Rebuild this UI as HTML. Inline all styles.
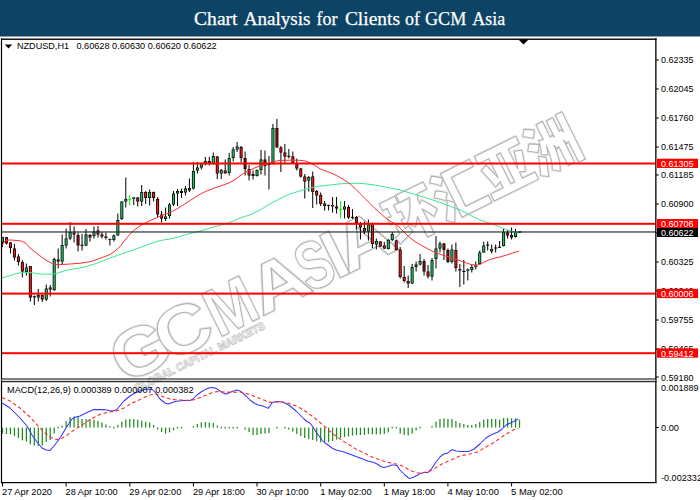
<!DOCTYPE html><html><head><meta charset="utf-8"><title>Chart Analysis for Clients of GCM Asia</title><style>html,body{margin:0;padding:0;background:#fff;overflow:hidden}</style></head><body><svg width="700" height="500" viewBox="0 0 700 500" style="display:block">
<rect x="0" y="0" width="700" height="500" fill="#fff"/>
<rect x="0" y="0" width="700" height="36.5" fill="#0d4466"/>
<g font-family="'Liberation Serif',serif" font-size="19.4" fill="#fff" stroke="#fff" stroke-width="0.25">
<text x="194.1" y="24.8" textLength="43.4" lengthAdjust="spacingAndGlyphs">Chart</text>
<text x="243.7" y="24.8" textLength="66.8" lengthAdjust="spacingAndGlyphs">Analysis</text>
<text x="316.4" y="24.8" textLength="21" lengthAdjust="spacingAndGlyphs">for</text>
<text x="344.9" y="24.8" textLength="55.1" lengthAdjust="spacingAndGlyphs">Clients</text>
<text x="405.1" y="24.8" textLength="15" lengthAdjust="spacingAndGlyphs">of</text>
<text x="425" y="24.8" textLength="41.3" lengthAdjust="spacingAndGlyphs">GCM</text>
<text x="472.3" y="24.8" textLength="32.8" lengthAdjust="spacingAndGlyphs">Asia</text>
</g>
<g transform="translate(122.5,385) rotate(-26.3)" font-weight="bold" fill="#fff" stroke="#ebebeb" stroke-width="3.0" stroke-linejoin="round">
<text x="2.0" y="0.5" font-family="'Liberation Sans',sans-serif" font-size="68" textLength="57.6" lengthAdjust="spacingAndGlyphs">G</text>
<text x="50.4" y="0.5" font-family="'Liberation Sans',sans-serif" font-size="68" textLength="55.7" lengthAdjust="spacingAndGlyphs">C</text>
<text x="107.0" y="0.5" font-family="'Liberation Sans',sans-serif" font-size="68" textLength="49.5" lengthAdjust="spacingAndGlyphs">M</text>
<text x="155.4" y="0.5" font-family="'Liberation Sans',sans-serif" font-size="68" textLength="59.2" lengthAdjust="spacingAndGlyphs">A</text>
<text x="208.5" y="0.5" font-family="'Liberation Sans',sans-serif" font-size="68" textLength="33.4" lengthAdjust="spacingAndGlyphs">S</text>
<text x="238.3" y="0.5" font-family="'Liberation Sans',sans-serif" font-size="68" textLength="19.3" lengthAdjust="spacingAndGlyphs">I</text>
<text x="250.5" y="0.5" font-family="'Liberation Sans',sans-serif" font-size="68" textLength="59.2" lengthAdjust="spacingAndGlyphs">A</text>
<text x="309" y="-3" font-family="'Noto Sans CJK SC','Liberation Sans',sans-serif" font-weight="900" font-size="57" textLength="209" lengthAdjust="spacingAndGlyphs">环汇亚洲</text>
<text x="9.5" y="12.8" font-family="'Liberation Sans',sans-serif" font-size="11" stroke-width="1.35" textLength="144" lengthAdjust="spacingAndGlyphs">GLOBAL CAPITAL MARKETS</text>
</g>
<g transform="translate(122.5,385) rotate(-26.3)" font-weight="bold" fill="#fff" stroke="#b2b2b2" stroke-width="1.1" stroke-linejoin="round">
<text x="2.0" y="0.5" font-family="'Liberation Sans',sans-serif" font-size="68" textLength="57.6" lengthAdjust="spacingAndGlyphs">G</text>
<text x="50.4" y="0.5" font-family="'Liberation Sans',sans-serif" font-size="68" textLength="55.7" lengthAdjust="spacingAndGlyphs">C</text>
<text x="107.0" y="0.5" font-family="'Liberation Sans',sans-serif" font-size="68" textLength="49.5" lengthAdjust="spacingAndGlyphs">M</text>
<text x="155.4" y="0.5" font-family="'Liberation Sans',sans-serif" font-size="68" textLength="59.2" lengthAdjust="spacingAndGlyphs">A</text>
<text x="208.5" y="0.5" font-family="'Liberation Sans',sans-serif" font-size="68" textLength="33.4" lengthAdjust="spacingAndGlyphs">S</text>
<text x="238.3" y="0.5" font-family="'Liberation Sans',sans-serif" font-size="68" textLength="19.3" lengthAdjust="spacingAndGlyphs">I</text>
<text x="250.5" y="0.5" font-family="'Liberation Sans',sans-serif" font-size="68" textLength="59.2" lengthAdjust="spacingAndGlyphs">A</text>
<text x="309" y="-3" font-family="'Noto Sans CJK SC','Liberation Sans',sans-serif" font-weight="900" font-size="57" textLength="209" lengthAdjust="spacingAndGlyphs">环汇亚洲</text>
<text x="9.5" y="12.8" font-family="'Liberation Sans',sans-serif" font-size="11" stroke-width="0.50" textLength="144" lengthAdjust="spacingAndGlyphs">GLOBAL CAPITAL MARKETS</text>
</g>
<rect x="2.00" y="237" width="1" height="10.0" fill="#000"/>
<rect x="1.00" y="237.2" width="3.0" height="5.3" fill="#000"/>
<rect x="1.80" y="237.9" width="1.4" height="3.9" fill="#1cc464"/>
<rect x="5.98" y="237" width="1" height="7.5" fill="#000"/>
<rect x="4.98" y="237.2" width="3.0" height="6.3" fill="#000"/>
<rect x="5.78" y="237.9" width="1.4" height="4.9" fill="#f41414"/>
<rect x="9.95" y="242" width="1" height="11.5" fill="#000"/>
<rect x="8.95" y="242.5" width="3.0" height="5.5" fill="#000"/>
<rect x="9.75" y="243.2" width="1.4" height="4.1" fill="#f41414"/>
<rect x="13.93" y="244" width="1" height="16.5" fill="#000"/>
<rect x="12.93" y="248.5" width="3.0" height="9.0" fill="#000"/>
<rect x="13.73" y="249.2" width="1.4" height="7.6" fill="#f41414"/>
<rect x="17.91" y="254" width="1" height="11.5" fill="#000"/>
<rect x="16.91" y="256.5" width="3.0" height="5.5" fill="#000"/>
<rect x="17.71" y="257.2" width="1.4" height="4.1" fill="#f41414"/>
<rect x="21.88" y="260" width="1" height="17.5" fill="#000"/>
<rect x="20.88" y="262" width="3.0" height="9.5" fill="#000"/>
<rect x="21.68" y="262.7" width="1.4" height="8.1" fill="#f41414"/>
<rect x="25.86" y="263.5" width="1" height="12.0" fill="#000"/>
<rect x="24.86" y="267.5" width="3.0" height="4.5" fill="#000"/>
<rect x="25.66" y="268.2" width="1.4" height="3.1" fill="#1cc464"/>
<rect x="29.84" y="266" width="1" height="35.5" fill="#000"/>
<rect x="28.84" y="266" width="3.0" height="31.5" fill="#000"/>
<rect x="29.64" y="266.7" width="1.4" height="30.1" fill="#f41414"/>
<rect x="33.82" y="295.5" width="1" height="9.5" fill="#000"/>
<rect x="32.72" y="296.3" width="3.2" height="1" fill="#000"/>
<rect x="37.79" y="289" width="1" height="12.5" fill="#000"/>
<rect x="36.79" y="295" width="3.0" height="2.5" fill="#000"/>
<rect x="37.59" y="295.7" width="1.4" height="1.1" fill="#1cc464"/>
<rect x="41.77" y="294.5" width="1" height="7.5" fill="#000"/>
<rect x="40.77" y="295" width="3.0" height="4.5" fill="#000"/>
<rect x="41.57" y="295.7" width="1.4" height="3.1" fill="#f41414"/>
<rect x="45.75" y="284.5" width="1" height="16.5" fill="#000"/>
<rect x="44.75" y="288.5" width="3.0" height="11.0" fill="#000"/>
<rect x="45.55" y="289.2" width="1.4" height="9.6" fill="#1cc464"/>
<rect x="49.72" y="285" width="1" height="11.5" fill="#000"/>
<rect x="48.72" y="287.5" width="3.0" height="2.0" fill="#000"/>
<rect x="49.52" y="288.2" width="1.4" height="0.6" fill="#f41414"/>
<rect x="53.70" y="257.5" width="1" height="33.5" fill="#000"/>
<rect x="52.70" y="259" width="3.0" height="31.0" fill="#000"/>
<rect x="53.50" y="259.7" width="1.4" height="29.6" fill="#1cc464"/>
<rect x="57.68" y="248.5" width="1" height="20.0" fill="#000"/>
<rect x="56.68" y="259.5" width="3.0" height="2.0" fill="#000"/>
<rect x="57.48" y="260.2" width="1.4" height="0.6" fill="#f41414"/>
<rect x="61.66" y="234.5" width="1" height="29.5" fill="#000"/>
<rect x="60.66" y="245" width="3.0" height="16.5" fill="#000"/>
<rect x="61.45" y="245.7" width="1.4" height="15.1" fill="#1cc464"/>
<rect x="65.63" y="228.5" width="1" height="20.0" fill="#000"/>
<rect x="64.63" y="238.5" width="3.0" height="7.0" fill="#000"/>
<rect x="65.43" y="239.2" width="1.4" height="5.6" fill="#1cc464"/>
<rect x="69.61" y="222" width="1" height="18.0" fill="#000"/>
<rect x="68.61" y="232" width="3.0" height="6.5" fill="#000"/>
<rect x="69.41" y="232.7" width="1.4" height="5.1" fill="#1cc464"/>
<rect x="73.59" y="226.5" width="1" height="16.0" fill="#000"/>
<rect x="72.59" y="232.5" width="3.0" height="2.0" fill="#000"/>
<rect x="73.39" y="233.2" width="1.4" height="0.6" fill="#f41414"/>
<rect x="77.56" y="232.5" width="1" height="19.0" fill="#000"/>
<rect x="76.56" y="235" width="3.0" height="10.5" fill="#000"/>
<rect x="77.36" y="235.7" width="1.4" height="9.1" fill="#a00808"/>
<rect x="81.54" y="234" width="1" height="16.5" fill="#000"/>
<rect x="80.44" y="244.8" width="3.2" height="1" fill="#000"/>
<rect x="85.52" y="229" width="1" height="17.0" fill="#000"/>
<rect x="84.52" y="234.5" width="3.0" height="11.0" fill="#000"/>
<rect x="85.32" y="235.2" width="1.4" height="9.6" fill="#1cc464"/>
<rect x="89.49" y="234" width="1" height="7.5" fill="#000"/>
<rect x="88.49" y="235" width="3.0" height="2.5" fill="#000"/>
<rect x="89.29" y="235.7" width="1.4" height="1.1" fill="#f41414"/>
<rect x="93.47" y="226.5" width="1" height="12.0" fill="#000"/>
<rect x="92.47" y="231.5" width="3.0" height="4.5" fill="#000"/>
<rect x="93.27" y="232.2" width="1.4" height="3.1" fill="#1cc464"/>
<rect x="97.45" y="226" width="1" height="11.5" fill="#000"/>
<rect x="96.45" y="230.5" width="3.0" height="4.0" fill="#000"/>
<rect x="97.25" y="231.2" width="1.4" height="2.6" fill="#f41414"/>
<rect x="101.42" y="232" width="1" height="6.5" fill="#000"/>
<rect x="100.42" y="234.5" width="3.0" height="2.0" fill="#000"/>
<rect x="101.22" y="235.2" width="1.4" height="0.6" fill="#f41414"/>
<rect x="105.40" y="232.5" width="1" height="7.0" fill="#000"/>
<rect x="104.40" y="236.5" width="3.0" height="1.5" fill="#000"/>
<rect x="105.20" y="236.8" width="1.4" height="0.9" fill="#f41414"/>
<rect x="109.38" y="239" width="1" height="6.5" fill="#000"/>
<rect x="108.28" y="238.8" width="3.2" height="1" fill="#000"/>
<rect x="113.36" y="234.5" width="1" height="7.0" fill="#000"/>
<rect x="112.36" y="235.5" width="3.0" height="4.5" fill="#000"/>
<rect x="113.16" y="236.2" width="1.4" height="3.1" fill="#1cc464"/>
<rect x="117.33" y="213.5" width="1" height="22.0" fill="#000"/>
<rect x="116.33" y="220" width="3.0" height="15.5" fill="#000"/>
<rect x="117.13" y="220.7" width="1.4" height="14.1" fill="#1cc464"/>
<rect x="121.31" y="201.5" width="1" height="18.5" fill="#000"/>
<rect x="120.31" y="201.5" width="3.0" height="17.5" fill="#000"/>
<rect x="121.11" y="202.2" width="1.4" height="16.1" fill="#1cc464"/>
<rect x="125.29" y="177.5" width="1" height="30.0" fill="#000"/>
<rect x="124.29" y="199" width="3.0" height="2.5" fill="#000"/>
<rect x="125.09" y="199.7" width="1.4" height="1.1" fill="#1cc464"/>
<rect x="129.26" y="195" width="1" height="10.5" fill="#00ee00"/>
<rect x="128.26" y="198.89999999999998" width="3" height="1" fill="#00ee00"/>
<rect x="133.24" y="197" width="1" height="8.0" fill="#000"/>
<rect x="132.24" y="197.5" width="3.0" height="1.5" fill="#000"/>
<rect x="133.04" y="197.8" width="1.4" height="0.9" fill="#1cc464"/>
<rect x="137.22" y="197" width="1" height="9.5" fill="#000"/>
<rect x="136.22" y="197.5" width="3.0" height="4.0" fill="#000"/>
<rect x="137.02" y="198.2" width="1.4" height="2.6" fill="#f41414"/>
<rect x="141.19" y="185" width="1" height="21.0" fill="#000"/>
<rect x="140.19" y="192" width="3.0" height="9.5" fill="#000"/>
<rect x="141.00" y="192.7" width="1.4" height="8.1" fill="#1cc464"/>
<rect x="145.17" y="191" width="1" height="13.0" fill="#000"/>
<rect x="144.17" y="192" width="3.0" height="6.0" fill="#000"/>
<rect x="144.97" y="192.7" width="1.4" height="4.6" fill="#f41414"/>
<rect x="149.15" y="189.5" width="1" height="16.0" fill="#000"/>
<rect x="148.15" y="192" width="3.0" height="6.0" fill="#000"/>
<rect x="148.95" y="192.7" width="1.4" height="4.6" fill="#1cc464"/>
<rect x="153.13" y="191.5" width="1" height="10.0" fill="#000"/>
<rect x="152.13" y="192" width="3.0" height="6.0" fill="#000"/>
<rect x="152.93" y="192.7" width="1.4" height="4.6" fill="#f41414"/>
<rect x="157.10" y="197" width="1" height="20.0" fill="#000"/>
<rect x="156.10" y="199" width="3.0" height="15.5" fill="#000"/>
<rect x="156.90" y="199.7" width="1.4" height="14.1" fill="#f41414"/>
<rect x="161.08" y="211" width="1" height="11.5" fill="#000"/>
<rect x="160.08" y="214.5" width="3.0" height="4.0" fill="#000"/>
<rect x="160.88" y="215.2" width="1.4" height="2.6" fill="#f41414"/>
<rect x="165.06" y="207.5" width="1" height="13.5" fill="#000"/>
<rect x="164.06" y="216.5" width="3.0" height="2.5" fill="#000"/>
<rect x="164.86" y="217.2" width="1.4" height="1.1" fill="#1cc464"/>
<rect x="169.03" y="203" width="1" height="15.5" fill="#000"/>
<rect x="168.03" y="204.5" width="3.0" height="11.5" fill="#000"/>
<rect x="168.83" y="205.2" width="1.4" height="10.1" fill="#1cc464"/>
<rect x="173.01" y="191" width="1" height="15.0" fill="#000"/>
<rect x="172.01" y="193.5" width="3.0" height="11.0" fill="#000"/>
<rect x="172.81" y="194.2" width="1.4" height="9.6" fill="#1cc464"/>
<rect x="176.99" y="189" width="1" height="17.0" fill="#000"/>
<rect x="175.99" y="191" width="3.0" height="2.5" fill="#000"/>
<rect x="176.79" y="191.7" width="1.4" height="1.1" fill="#1cc464"/>
<rect x="180.97" y="188.5" width="1" height="9.5" fill="#000"/>
<rect x="179.97" y="191" width="3.0" height="2.0" fill="#000"/>
<rect x="180.77" y="191.7" width="1.4" height="0.6" fill="#f41414"/>
<rect x="184.94" y="186" width="1" height="9.5" fill="#000"/>
<rect x="183.94" y="188.5" width="3.0" height="4.0" fill="#000"/>
<rect x="184.74" y="189.2" width="1.4" height="2.6" fill="#1cc464"/>
<rect x="188.92" y="178.5" width="1" height="13.5" fill="#000"/>
<rect x="187.92" y="188" width="3.0" height="2.5" fill="#000"/>
<rect x="188.72" y="188.7" width="1.4" height="1.1" fill="#f41414"/>
<rect x="192.90" y="162" width="1" height="27.5" fill="#000"/>
<rect x="191.90" y="171" width="3.0" height="17.5" fill="#000"/>
<rect x="192.70" y="171.7" width="1.4" height="16.1" fill="#1cc464"/>
<rect x="196.87" y="162" width="1" height="11.5" fill="#000"/>
<rect x="195.87" y="167.5" width="3.0" height="3.0" fill="#000"/>
<rect x="196.67" y="168.2" width="1.4" height="1.6" fill="#1cc464"/>
<rect x="200.85" y="162.5" width="1" height="7.0" fill="#000"/>
<rect x="199.85" y="163" width="3.0" height="4.5" fill="#000"/>
<rect x="200.65" y="163.7" width="1.4" height="3.1" fill="#1cc464"/>
<rect x="204.83" y="157" width="1" height="8.5" fill="#000"/>
<rect x="203.83" y="161" width="3.0" height="2.5" fill="#000"/>
<rect x="204.63" y="161.7" width="1.4" height="1.1" fill="#1cc464"/>
<rect x="208.80" y="157" width="1" height="8.5" fill="#000"/>
<rect x="207.80" y="161" width="3.0" height="2.5" fill="#000"/>
<rect x="208.60" y="161.7" width="1.4" height="1.1" fill="#f41414"/>
<rect x="212.78" y="152.5" width="1" height="12.5" fill="#000"/>
<rect x="211.78" y="156" width="3.0" height="7.5" fill="#000"/>
<rect x="212.58" y="156.7" width="1.4" height="6.1" fill="#1cc464"/>
<rect x="216.76" y="156" width="1" height="23.0" fill="#000"/>
<rect x="215.76" y="156.5" width="3.0" height="17.0" fill="#000"/>
<rect x="216.56" y="157.2" width="1.4" height="15.6" fill="#f41414"/>
<rect x="220.73" y="169" width="1" height="10.0" fill="#000"/>
<rect x="219.73" y="170" width="3.0" height="3.5" fill="#000"/>
<rect x="220.53" y="170.7" width="1.4" height="2.1" fill="#1cc464"/>
<rect x="224.71" y="159.5" width="1" height="14.0" fill="#000"/>
<rect x="223.71" y="170.5" width="3.0" height="3.0" fill="#000"/>
<rect x="224.51" y="171.2" width="1.4" height="1.6" fill="#f41414"/>
<rect x="228.69" y="153" width="1" height="22.5" fill="#000"/>
<rect x="227.69" y="158" width="3.0" height="15.0" fill="#000"/>
<rect x="228.49" y="158.7" width="1.4" height="13.6" fill="#1cc464"/>
<rect x="232.67" y="147" width="1" height="14.5" fill="#000"/>
<rect x="231.67" y="149.5" width="3.0" height="8.5" fill="#000"/>
<rect x="232.47" y="150.2" width="1.4" height="7.1" fill="#1cc464"/>
<rect x="236.64" y="142" width="1" height="10.0" fill="#000"/>
<rect x="235.64" y="146.5" width="3.0" height="3.0" fill="#000"/>
<rect x="236.44" y="147.2" width="1.4" height="1.6" fill="#1cc464"/>
<rect x="240.62" y="146" width="1" height="16.5" fill="#000"/>
<rect x="239.62" y="147" width="3.0" height="11.0" fill="#000"/>
<rect x="240.42" y="147.7" width="1.4" height="9.6" fill="#f41414"/>
<rect x="244.60" y="151.5" width="1" height="24.0" fill="#000"/>
<rect x="243.60" y="158" width="3.0" height="11.0" fill="#000"/>
<rect x="244.40" y="158.7" width="1.4" height="9.6" fill="#a00808"/>
<rect x="248.57" y="165" width="1" height="15.5" fill="#000"/>
<rect x="247.57" y="169" width="3.0" height="6.5" fill="#000"/>
<rect x="248.37" y="169.7" width="1.4" height="5.1" fill="#f41414"/>
<rect x="252.55" y="170.5" width="1" height="9.0" fill="#000"/>
<rect x="251.55" y="174" width="3.0" height="2.0" fill="#000"/>
<rect x="252.35" y="174.7" width="1.4" height="0.6" fill="#f41414"/>
<rect x="256.53" y="169.5" width="1" height="7.0" fill="#000"/>
<rect x="255.53" y="170" width="3.0" height="6.0" fill="#000"/>
<rect x="256.33" y="170.7" width="1.4" height="4.6" fill="#1cc464"/>
<rect x="260.50" y="150" width="1" height="24.5" fill="#000"/>
<rect x="259.50" y="159.5" width="3.0" height="10.5" fill="#000"/>
<rect x="260.31" y="160.2" width="1.4" height="9.1" fill="#1cc464"/>
<rect x="264.48" y="150.5" width="1" height="25.0" fill="#000"/>
<rect x="263.48" y="159.5" width="3.0" height="6.5" fill="#000"/>
<rect x="264.28" y="160.2" width="1.4" height="5.1" fill="#a00808"/>
<rect x="268.46" y="156" width="1" height="33.5" fill="#000"/>
<rect x="267.36" y="164.0" width="3.2" height="1" fill="#000"/>
<rect x="272.44" y="124" width="1" height="40.5" fill="#000"/>
<rect x="271.44" y="128" width="3.0" height="36.0" fill="#000"/>
<rect x="272.24" y="128.7" width="1.4" height="34.6" fill="#1cc464"/>
<rect x="276.41" y="119" width="1" height="28.5" fill="#000"/>
<rect x="275.41" y="128" width="3.0" height="19.5" fill="#000"/>
<rect x="276.21" y="128.7" width="1.4" height="18.1" fill="#a00808"/>
<rect x="280.39" y="146" width="1" height="26.0" fill="#000"/>
<rect x="279.39" y="147.5" width="3.0" height="5.0" fill="#000"/>
<rect x="280.19" y="148.2" width="1.4" height="3.6" fill="#f41414"/>
<rect x="284.37" y="144" width="1" height="19.0" fill="#000"/>
<rect x="283.37" y="152.5" width="3.0" height="4.0" fill="#000"/>
<rect x="284.17" y="153.2" width="1.4" height="2.6" fill="#f41414"/>
<rect x="288.34" y="149" width="1" height="9.5" fill="#000"/>
<rect x="287.24" y="155.8" width="3.2" height="1" fill="#000"/>
<rect x="292.32" y="151.5" width="1" height="11.5" fill="#000"/>
<rect x="291.32" y="156.5" width="3.0" height="6.5" fill="#000"/>
<rect x="292.12" y="157.2" width="1.4" height="5.1" fill="#f41414"/>
<rect x="296.30" y="158.5" width="1" height="12.0" fill="#000"/>
<rect x="295.30" y="164" width="3.0" height="4.5" fill="#000"/>
<rect x="296.10" y="164.7" width="1.4" height="3.1" fill="#f41414"/>
<rect x="300.27" y="168" width="1" height="9.5" fill="#000"/>
<rect x="299.27" y="168.5" width="3.0" height="8.0" fill="#000"/>
<rect x="300.07" y="169.2" width="1.4" height="6.6" fill="#f41414"/>
<rect x="304.25" y="174" width="1" height="24.5" fill="#000"/>
<rect x="303.25" y="176.5" width="3.0" height="5.0" fill="#000"/>
<rect x="304.05" y="177.2" width="1.4" height="3.6" fill="#f41414"/>
<rect x="308.23" y="176" width="1" height="15.5" fill="#000"/>
<rect x="307.23" y="177" width="3.0" height="3.5" fill="#000"/>
<rect x="308.03" y="177.7" width="1.4" height="2.1" fill="#1cc464"/>
<rect x="312.21" y="171.5" width="1" height="36.5" fill="#000"/>
<rect x="311.21" y="176.5" width="3.0" height="15.5" fill="#000"/>
<rect x="312.01" y="177.2" width="1.4" height="14.1" fill="#f41414"/>
<rect x="316.18" y="190" width="1" height="14.5" fill="#000"/>
<rect x="315.18" y="191" width="3.0" height="4.5" fill="#000"/>
<rect x="315.98" y="191.7" width="1.4" height="3.1" fill="#f41414"/>
<rect x="320.16" y="192.5" width="1" height="13.5" fill="#000"/>
<rect x="319.16" y="195" width="3.0" height="9.0" fill="#000"/>
<rect x="319.96" y="195.7" width="1.4" height="7.6" fill="#f41414"/>
<rect x="324.14" y="201" width="1" height="9.5" fill="#000"/>
<rect x="323.14" y="203.5" width="3.0" height="2.5" fill="#000"/>
<rect x="323.94" y="204.2" width="1.4" height="1.1" fill="#f41414"/>
<rect x="328.11" y="205" width="1" height="5.5" fill="#000"/>
<rect x="327.01" y="204.8" width="3.2" height="1" fill="#000"/>
<rect x="332.09" y="197" width="1" height="15.5" fill="#000"/>
<rect x="331.09" y="205" width="3.0" height="1.5" fill="#000"/>
<rect x="331.89" y="205.3" width="1.4" height="0.9" fill="#f41414"/>
<rect x="336.07" y="197" width="1" height="16.5" fill="#000"/>
<rect x="335.07" y="206.5" width="3.0" height="2.0" fill="#000"/>
<rect x="335.87" y="207.2" width="1.4" height="0.6" fill="#f41414"/>
<rect x="340.05" y="201" width="1" height="17.5" fill="#00ee00"/>
<rect x="339.05" y="208.89999999999998" width="3" height="1" fill="#00ee00"/>
<rect x="344.02" y="201" width="1" height="17.5" fill="#000"/>
<rect x="343.02" y="206.5" width="3.0" height="3.0" fill="#000"/>
<rect x="343.82" y="207.2" width="1.4" height="1.6" fill="#1cc464"/>
<rect x="348.00" y="205" width="1" height="14.0" fill="#000"/>
<rect x="347.00" y="207" width="3.0" height="10.5" fill="#000"/>
<rect x="347.80" y="207.7" width="1.4" height="9.1" fill="#f41414"/>
<rect x="351.98" y="209" width="1" height="10.0" fill="#000"/>
<rect x="350.88" y="216.8" width="3.2" height="1" fill="#000"/>
<rect x="355.95" y="216" width="1" height="13.5" fill="#000"/>
<rect x="354.95" y="217" width="3.0" height="6.0" fill="#000"/>
<rect x="355.75" y="217.7" width="1.4" height="4.6" fill="#f41414"/>
<rect x="359.93" y="222" width="1" height="17.5" fill="#000"/>
<rect x="358.93" y="224" width="3.0" height="3.5" fill="#000"/>
<rect x="359.73" y="224.7" width="1.4" height="2.1" fill="#f41414"/>
<rect x="363.91" y="221.5" width="1" height="12.5" fill="#000"/>
<rect x="362.91" y="228" width="3.0" height="3.5" fill="#000"/>
<rect x="363.71" y="228.7" width="1.4" height="2.1" fill="#f41414"/>
<rect x="367.88" y="219.5" width="1" height="21.0" fill="#000"/>
<rect x="366.88" y="224.5" width="3.0" height="7.0" fill="#000"/>
<rect x="367.68" y="225.2" width="1.4" height="5.6" fill="#1cc464"/>
<rect x="371.86" y="222.5" width="1" height="25.5" fill="#000"/>
<rect x="370.86" y="224.5" width="3.0" height="19.5" fill="#000"/>
<rect x="371.66" y="225.2" width="1.4" height="18.1" fill="#f41414"/>
<rect x="375.84" y="238.5" width="1" height="11.0" fill="#000"/>
<rect x="374.84" y="241" width="3.0" height="3.5" fill="#000"/>
<rect x="375.64" y="241.7" width="1.4" height="2.1" fill="#1cc464"/>
<rect x="379.81" y="241" width="1" height="6.0" fill="#000"/>
<rect x="378.81" y="241.5" width="3.0" height="5.0" fill="#000"/>
<rect x="379.62" y="242.2" width="1.4" height="3.6" fill="#f41414"/>
<rect x="383.79" y="242" width="1" height="7.0" fill="#000"/>
<rect x="382.79" y="245.5" width="3.0" height="3.0" fill="#000"/>
<rect x="383.59" y="246.2" width="1.4" height="1.6" fill="#f41414"/>
<rect x="387.77" y="239" width="1" height="10.5" fill="#000"/>
<rect x="386.77" y="240" width="3.0" height="9.0" fill="#000"/>
<rect x="387.57" y="240.7" width="1.4" height="7.6" fill="#1cc464"/>
<rect x="391.75" y="232" width="1" height="9.0" fill="#000"/>
<rect x="390.75" y="234" width="3.0" height="6.0" fill="#000"/>
<rect x="391.55" y="234.7" width="1.4" height="4.6" fill="#1cc464"/>
<rect x="395.72" y="240" width="1" height="10.5" fill="#000"/>
<rect x="394.72" y="240.5" width="3.0" height="9.5" fill="#000"/>
<rect x="395.52" y="241.2" width="1.4" height="8.1" fill="#f41414"/>
<rect x="399.70" y="247" width="1" height="31.5" fill="#000"/>
<rect x="398.70" y="249.5" width="3.0" height="27.5" fill="#000"/>
<rect x="399.50" y="250.2" width="1.4" height="26.1" fill="#f41414"/>
<rect x="403.68" y="266" width="1" height="16.5" fill="#000"/>
<rect x="402.68" y="277" width="3.0" height="4.0" fill="#000"/>
<rect x="403.48" y="277.7" width="1.4" height="2.6" fill="#f41414"/>
<rect x="407.65" y="275.5" width="1" height="12.5" fill="#000"/>
<rect x="406.65" y="281" width="3.0" height="2.5" fill="#000"/>
<rect x="407.45" y="281.7" width="1.4" height="1.1" fill="#f41414"/>
<rect x="411.63" y="264" width="1" height="20.0" fill="#000"/>
<rect x="410.63" y="267" width="3.0" height="16.5" fill="#000"/>
<rect x="411.43" y="267.7" width="1.4" height="15.1" fill="#1cc464"/>
<rect x="415.61" y="261.5" width="1" height="10.0" fill="#000"/>
<rect x="414.61" y="264.5" width="3.0" height="2.5" fill="#000"/>
<rect x="415.41" y="265.2" width="1.4" height="1.1" fill="#1cc464"/>
<rect x="419.58" y="254" width="1" height="11.5" fill="#000"/>
<rect x="418.58" y="261" width="3.0" height="3.5" fill="#000"/>
<rect x="419.38" y="261.7" width="1.4" height="2.1" fill="#1cc464"/>
<rect x="423.56" y="259" width="1" height="16.5" fill="#000"/>
<rect x="422.56" y="261" width="3.0" height="10.5" fill="#000"/>
<rect x="423.36" y="261.7" width="1.4" height="9.1" fill="#a00808"/>
<rect x="427.54" y="265" width="1" height="13.5" fill="#000"/>
<rect x="426.54" y="271.5" width="3.0" height="5.0" fill="#000"/>
<rect x="427.34" y="272.2" width="1.4" height="3.6" fill="#f41414"/>
<rect x="431.52" y="258" width="1" height="22.5" fill="#000"/>
<rect x="430.52" y="260" width="3.0" height="16.5" fill="#000"/>
<rect x="431.32" y="260.7" width="1.4" height="15.1" fill="#1cc464"/>
<rect x="435.49" y="236" width="1" height="32.5" fill="#000"/>
<rect x="434.49" y="248.5" width="3.0" height="10.5" fill="#000"/>
<rect x="435.29" y="249.2" width="1.4" height="9.1" fill="#1cc464"/>
<rect x="439.47" y="241.5" width="1" height="11.0" fill="#000"/>
<rect x="438.47" y="243.5" width="3.0" height="5.0" fill="#000"/>
<rect x="439.27" y="244.2" width="1.4" height="3.6" fill="#1cc464"/>
<rect x="443.45" y="243" width="1" height="17.0" fill="#000"/>
<rect x="442.45" y="243.5" width="3.0" height="6.5" fill="#000"/>
<rect x="443.25" y="244.2" width="1.4" height="5.1" fill="#a00808"/>
<rect x="447.42" y="248.5" width="1" height="14.5" fill="#000"/>
<rect x="446.42" y="250" width="3.0" height="12.0" fill="#000"/>
<rect x="447.22" y="250.7" width="1.4" height="10.6" fill="#a00808"/>
<rect x="451.40" y="244.5" width="1" height="19.0" fill="#000"/>
<rect x="450.40" y="249.5" width="3.0" height="12.5" fill="#000"/>
<rect x="451.20" y="250.2" width="1.4" height="11.1" fill="#1cc464"/>
<rect x="455.38" y="242.5" width="1" height="29.0" fill="#000"/>
<rect x="454.38" y="250" width="3.0" height="18.0" fill="#000"/>
<rect x="455.18" y="250.7" width="1.4" height="16.6" fill="#f41414"/>
<rect x="459.35" y="264" width="1" height="23.0" fill="#000"/>
<rect x="458.35" y="269" width="3.0" height="1.5" fill="#000"/>
<rect x="459.15" y="269.3" width="1.4" height="0.9" fill="#f41414"/>
<rect x="463.33" y="260" width="1" height="24.5" fill="#000"/>
<rect x="462.23" y="271.0" width="3.2" height="1" fill="#000"/>
<rect x="467.31" y="268.5" width="1" height="12.0" fill="#000"/>
<rect x="466.31" y="269.5" width="3.0" height="1.5" fill="#000"/>
<rect x="467.11" y="269.8" width="1.4" height="0.9" fill="#1cc464"/>
<rect x="471.29" y="264.5" width="1" height="8.0" fill="#000"/>
<rect x="470.29" y="267" width="3.0" height="3.0" fill="#000"/>
<rect x="471.09" y="267.7" width="1.4" height="1.6" fill="#1cc464"/>
<rect x="475.26" y="261.5" width="1" height="8.0" fill="#000"/>
<rect x="474.26" y="265.5" width="3.0" height="1.5" fill="#000"/>
<rect x="475.06" y="265.8" width="1.4" height="0.9" fill="#1cc464"/>
<rect x="479.24" y="250.5" width="1" height="14.0" fill="#000"/>
<rect x="478.24" y="252.5" width="3.0" height="11.5" fill="#000"/>
<rect x="479.04" y="253.2" width="1.4" height="10.1" fill="#1cc464"/>
<rect x="483.22" y="241.5" width="1" height="11.0" fill="#000"/>
<rect x="482.22" y="245.5" width="3.0" height="7.0" fill="#000"/>
<rect x="483.02" y="246.2" width="1.4" height="5.6" fill="#1cc464"/>
<rect x="487.19" y="241.5" width="1" height="9.0" fill="#000"/>
<rect x="486.09" y="244.5" width="3.2" height="1" fill="#000"/>
<rect x="491.17" y="244.5" width="1" height="9.0" fill="#000"/>
<rect x="490.17" y="249" width="3.0" height="2.5" fill="#000"/>
<rect x="490.97" y="249.7" width="1.4" height="1.1" fill="#1cc464"/>
<rect x="495.15" y="244.5" width="1" height="8.0" fill="#000"/>
<rect x="494.05" y="247.5" width="3.2" height="1" fill="#000"/>
<rect x="499.12" y="241" width="1" height="6.8" fill="#000"/>
<rect x="498.02" y="246.8" width="3.2" height="1" fill="#000"/>
<rect x="503.10" y="229" width="1" height="17.5" fill="#000"/>
<rect x="502.10" y="232" width="3.0" height="14.0" fill="#000"/>
<rect x="502.90" y="232.7" width="1.4" height="12.6" fill="#1cc464"/>
<rect x="507.08" y="230" width="1" height="8.5" fill="#000"/>
<rect x="506.08" y="232.5" width="3.0" height="3.0" fill="#000"/>
<rect x="506.88" y="233.2" width="1.4" height="1.6" fill="#f41414"/>
<rect x="511.06" y="227.5" width="1" height="12.0" fill="#000"/>
<rect x="510.06" y="235" width="3.0" height="2.5" fill="#000"/>
<rect x="510.86" y="235.7" width="1.4" height="1.1" fill="#f41414"/>
<rect x="515.03" y="229" width="1" height="8.5" fill="#000"/>
<rect x="514.03" y="232" width="3.0" height="5.0" fill="#000"/>
<rect x="514.83" y="232.7" width="1.4" height="3.6" fill="#1cc464"/>
<polyline points="2.0,278.0 6.0,276.8 10.0,275.6 15.0,274.0 20.0,272.8 25.0,272.4 30.0,272.5 35.0,273.3 40.0,274.0 47.0,274.2 54.0,274.0 58.0,273.0 62.0,271.6 66.0,270.5 70.0,269.7 75.0,268.8 80.0,268.0 85.0,266.8 90.0,265.3 95.0,263.8 100.0,262.0 105.0,260.0 110.0,258.0 120.0,254.5 130.0,251.0 140.0,247.5 150.0,244.0 155.0,242.2 160.0,240.6 165.0,239.7 170.0,239.0 175.0,237.8 180.0,236.5 185.0,235.0 190.0,233.6 195.0,232.3 200.0,231.0 205.0,229.5 210.0,228.0 215.0,226.6 220.0,225.3 225.0,224.0 230.0,222.2 235.0,220.2 240.0,218.0 245.0,216.5 250.0,214.8 255.0,212.5 260.0,210.0 265.0,207.0 270.0,204.0 275.0,201.2 280.0,198.6 285.0,196.2 290.0,194.0 295.0,192.4 300.0,190.9 305.0,189.3 310.0,188.0 315.0,186.9 320.0,186.1 325.0,185.5 330.0,185.0 335.0,184.4 340.0,183.9 345.0,183.5 350.0,183.4 355.0,183.3 360.0,183.4 365.0,183.8 370.0,184.4 375.0,185.1 380.0,186.0 385.0,187.0 390.0,188.0 395.0,189.0 400.0,190.0 405.0,191.4 410.0,193.0 415.0,194.5 420.0,196.0 425.0,197.5 430.0,199.0 435.0,200.7 440.0,202.4 445.0,204.2 450.0,206.0 455.0,208.0 460.0,210.0 465.0,212.4 470.0,215.0 475.0,217.6 480.0,220.0 484.0,221.3 488.0,222.6 492.0,224.0 495.0,225.0 500.0,227.0 505.0,229.0 509.0,230.5 512.0,231.5 515.0,232.3 519.0,233.0" fill="none" stroke="#3fe694" stroke-width="1.0" stroke-linejoin="round" />
<polyline points="2.0,246.0 4.0,242.0 6.0,240.3 10.0,240.0 15.0,240.3 20.0,240.8 23.0,241.8 26.0,243.5 30.0,248.0 35.0,252.0 40.0,255.8 45.0,259.5 50.0,262.5 55.0,264.3 58.0,264.6 64.0,264.4 70.0,264.0 80.0,263.2 90.0,261.8 95.0,260.2 100.0,258.3 105.0,256.5 110.0,254.5 115.0,251.0 120.0,246.5 125.0,240.0 130.0,234.0 135.0,229.5 140.0,226.0 145.0,223.0 150.0,220.5 155.0,218.5 160.0,216.3 165.0,214.5 170.0,212.4 175.0,210.0 180.0,207.0 185.0,203.8 190.0,200.5 195.0,197.3 200.0,194.3 205.0,191.8 210.0,189.7 215.0,187.8 220.0,186.2 225.0,184.4 230.0,182.5 235.0,179.5 240.0,175.8 245.0,172.6 250.0,170.0 255.0,167.8 260.0,166.0 265.0,164.6 270.0,163.2 275.0,161.3 280.0,160.4 290.0,160.2 300.0,160.3 305.0,161.0 310.0,162.6 315.0,165.5 320.0,168.8 325.0,170.8 330.0,172.5 335.0,174.8 340.0,177.5 345.0,180.5 349.0,183.0 352.0,185.8 355.0,188.5 360.0,193.5 365.0,198.5 370.0,203.5 375.0,208.5 380.0,213.0 384.0,216.5 387.0,219.0 390.0,221.0 393.0,222.7 396.0,224.5 399.0,227.0 403.0,231.0 407.0,235.0 410.0,237.8 415.0,241.5 420.0,244.5 424.0,246.8 428.0,249.0 432.0,251.0 436.0,252.7 441.0,254.6 447.0,256.5 452.0,258.0 458.0,260.0 465.0,262.5 471.0,264.5 475.0,265.0 478.0,264.8 481.0,264.0 485.0,261.5 490.0,259.5 495.0,258.0 500.0,257.0 505.0,255.5 510.0,254.0 515.0,252.3 519.0,251.0" fill="none" stroke="#ff3030" stroke-width="1.0" stroke-linejoin="round" />
<rect x="2" y="162.5" width="654" height="2" fill="#ff0000"/>
<rect x="2" y="222.8" width="654" height="2" fill="#ff0000"/>
<rect x="2" y="292.6" width="654" height="2" fill="#ff0000"/>
<rect x="2" y="352.2" width="654" height="2" fill="#ff0000"/>
<rect x="2" y="231.4" width="654" height="1.15" fill="#262626"/>
<rect x="518.3" y="231.4" width="3" height="1.15" fill="#000"/>
<rect x="1.88" y="427.6" width="1.25" height="6.0" fill="#228b22"/>
<rect x="5.86" y="427.6" width="1.25" height="6.4" fill="#228b22"/>
<rect x="9.83" y="427.6" width="1.25" height="6.8" fill="#228b22"/>
<rect x="13.81" y="427.6" width="1.25" height="8.4" fill="#228b22"/>
<rect x="17.79" y="427.6" width="1.25" height="10.4" fill="#228b22"/>
<rect x="21.76" y="427.6" width="1.25" height="12.8" fill="#228b22"/>
<rect x="25.74" y="427.6" width="1.25" height="14.0" fill="#228b22"/>
<rect x="29.72" y="427.6" width="1.25" height="16.8" fill="#228b22"/>
<rect x="33.70" y="427.6" width="1.25" height="18.0" fill="#228b22"/>
<rect x="37.67" y="427.6" width="1.25" height="18.4" fill="#228b22"/>
<rect x="41.65" y="427.6" width="1.25" height="18.0" fill="#228b22"/>
<rect x="45.63" y="427.6" width="1.25" height="14.4" fill="#228b22"/>
<rect x="49.60" y="427.6" width="1.25" height="12.4" fill="#228b22"/>
<rect x="53.58" y="427.6" width="1.25" height="6.0" fill="#228b22"/>
<rect x="57.56" y="426.8" width="1.25" height="1.6" fill="#228b22"/>
<rect x="61.54" y="425.6" width="1.25" height="2.0" fill="#228b22"/>
<rect x="65.51" y="421.0" width="1.25" height="6.6" fill="#228b22"/>
<rect x="69.49" y="417.0" width="1.25" height="10.6" fill="#228b22"/>
<rect x="73.47" y="416.4" width="1.25" height="11.2" fill="#228b22"/>
<rect x="77.44" y="417.0" width="1.25" height="10.6" fill="#228b22"/>
<rect x="81.42" y="419.0" width="1.25" height="8.6" fill="#228b22"/>
<rect x="85.40" y="419.0" width="1.25" height="8.6" fill="#228b22"/>
<rect x="89.37" y="419.0" width="1.25" height="8.6" fill="#228b22"/>
<rect x="93.35" y="419.6" width="1.25" height="8.0" fill="#228b22"/>
<rect x="97.33" y="421.0" width="1.25" height="6.6" fill="#228b22"/>
<rect x="101.30" y="422.4" width="1.25" height="5.2" fill="#228b22"/>
<rect x="105.28" y="424.4" width="1.25" height="3.2" fill="#228b22"/>
<rect x="109.26" y="426.0" width="1.25" height="1.6" fill="#228b22"/>
<rect x="113.24" y="426.8" width="1.25" height="1.6" fill="#228b22"/>
<rect x="117.21" y="425.0" width="1.25" height="2.6" fill="#228b22"/>
<rect x="121.19" y="421.6" width="1.25" height="6.0" fill="#228b22"/>
<rect x="125.17" y="419.4" width="1.25" height="8.2" fill="#228b22"/>
<rect x="129.14" y="419.0" width="1.25" height="8.6" fill="#228b22"/>
<rect x="133.12" y="419.2" width="1.25" height="8.4" fill="#228b22"/>
<rect x="137.10" y="419.6" width="1.25" height="8.0" fill="#228b22"/>
<rect x="141.07" y="420.6" width="1.25" height="7.0" fill="#228b22"/>
<rect x="145.05" y="421.6" width="1.25" height="6.0" fill="#228b22"/>
<rect x="149.03" y="422.4" width="1.25" height="5.2" fill="#228b22"/>
<rect x="153.01" y="425.0" width="1.25" height="2.6" fill="#228b22"/>
<rect x="156.98" y="427.6" width="1.25" height="2.0" fill="#228b22"/>
<rect x="160.96" y="427.6" width="1.25" height="4.4" fill="#228b22"/>
<rect x="164.94" y="427.6" width="1.25" height="6.0" fill="#228b22"/>
<rect x="168.91" y="427.6" width="1.25" height="4.8" fill="#228b22"/>
<rect x="172.89" y="427.6" width="1.25" height="2.8" fill="#228b22"/>
<rect x="176.87" y="426.8" width="1.25" height="1.6" fill="#228b22"/>
<rect x="180.84" y="426.8" width="1.25" height="1.6" fill="#228b22"/>
<rect x="192.78" y="426.0" width="1.25" height="1.6" fill="#228b22"/>
<rect x="196.75" y="424.0" width="1.25" height="3.6" fill="#228b22"/>
<rect x="200.73" y="422.4" width="1.25" height="5.2" fill="#228b22"/>
<rect x="204.71" y="422.0" width="1.25" height="5.6" fill="#228b22"/>
<rect x="208.68" y="422.4" width="1.25" height="5.2" fill="#228b22"/>
<rect x="212.66" y="423.0" width="1.25" height="4.6" fill="#228b22"/>
<rect x="216.64" y="425.6" width="1.25" height="2.0" fill="#228b22"/>
<rect x="220.61" y="426.8" width="1.25" height="1.6" fill="#228b22"/>
<rect x="224.59" y="426.8" width="1.25" height="1.6" fill="#228b22"/>
<rect x="228.57" y="426.8" width="1.25" height="1.6" fill="#228b22"/>
<rect x="232.55" y="426.8" width="1.25" height="1.6" fill="#228b22"/>
<rect x="236.52" y="426.8" width="1.25" height="1.6" fill="#228b22"/>
<rect x="244.48" y="427.6" width="1.25" height="2.0" fill="#228b22"/>
<rect x="248.45" y="427.6" width="1.25" height="4.4" fill="#228b22"/>
<rect x="252.43" y="427.6" width="1.25" height="7.4" fill="#228b22"/>
<rect x="256.41" y="427.6" width="1.25" height="7.4" fill="#228b22"/>
<rect x="260.38" y="427.6" width="1.25" height="6.4" fill="#228b22"/>
<rect x="264.36" y="427.6" width="1.25" height="6.0" fill="#228b22"/>
<rect x="268.34" y="427.6" width="1.25" height="5.4" fill="#228b22"/>
<rect x="276.29" y="426.8" width="1.25" height="1.6" fill="#228b22"/>
<rect x="284.25" y="426.8" width="1.25" height="1.6" fill="#228b22"/>
<rect x="288.22" y="427.6" width="1.25" height="2.0" fill="#228b22"/>
<rect x="292.20" y="427.6" width="1.25" height="4.0" fill="#228b22"/>
<rect x="296.18" y="427.6" width="1.25" height="6.4" fill="#228b22"/>
<rect x="300.15" y="427.6" width="1.25" height="8.4" fill="#228b22"/>
<rect x="304.13" y="427.6" width="1.25" height="10.4" fill="#228b22"/>
<rect x="308.11" y="427.6" width="1.25" height="11.4" fill="#228b22"/>
<rect x="312.09" y="427.6" width="1.25" height="12.4" fill="#228b22"/>
<rect x="316.06" y="427.6" width="1.25" height="13.4" fill="#228b22"/>
<rect x="320.04" y="427.6" width="1.25" height="14.8" fill="#228b22"/>
<rect x="324.02" y="427.6" width="1.25" height="14.8" fill="#228b22"/>
<rect x="327.99" y="427.6" width="1.25" height="14.4" fill="#228b22"/>
<rect x="331.97" y="427.6" width="1.25" height="13.4" fill="#228b22"/>
<rect x="335.95" y="427.6" width="1.25" height="12.0" fill="#228b22"/>
<rect x="339.93" y="427.6" width="1.25" height="10.4" fill="#228b22"/>
<rect x="343.90" y="427.6" width="1.25" height="9.4" fill="#228b22"/>
<rect x="347.88" y="427.6" width="1.25" height="8.8" fill="#228b22"/>
<rect x="351.86" y="427.6" width="1.25" height="8.0" fill="#228b22"/>
<rect x="355.83" y="427.6" width="1.25" height="7.4" fill="#228b22"/>
<rect x="359.81" y="427.6" width="1.25" height="7.4" fill="#228b22"/>
<rect x="363.79" y="427.6" width="1.25" height="7.4" fill="#228b22"/>
<rect x="367.76" y="427.6" width="1.25" height="6.4" fill="#228b22"/>
<rect x="371.74" y="427.6" width="1.25" height="6.8" fill="#228b22"/>
<rect x="375.72" y="427.6" width="1.25" height="6.8" fill="#228b22"/>
<rect x="379.69" y="427.6" width="1.25" height="6.8" fill="#228b22"/>
<rect x="383.67" y="427.6" width="1.25" height="6.4" fill="#228b22"/>
<rect x="387.65" y="427.6" width="1.25" height="4.8" fill="#228b22"/>
<rect x="391.63" y="426.8" width="1.25" height="1.6" fill="#228b22"/>
<rect x="395.60" y="426.8" width="1.25" height="1.6" fill="#228b22"/>
<rect x="399.58" y="427.6" width="1.25" height="6.0" fill="#228b22"/>
<rect x="403.56" y="427.6" width="1.25" height="7.4" fill="#228b22"/>
<rect x="407.53" y="427.6" width="1.25" height="8.0" fill="#228b22"/>
<rect x="411.51" y="427.6" width="1.25" height="6.0" fill="#228b22"/>
<rect x="415.49" y="427.6" width="1.25" height="2.8" fill="#228b22"/>
<rect x="419.46" y="426.8" width="1.25" height="1.6" fill="#228b22"/>
<rect x="431.40" y="426.0" width="1.25" height="1.6" fill="#228b22"/>
<rect x="435.37" y="421.6" width="1.25" height="6.0" fill="#228b22"/>
<rect x="439.35" y="419.0" width="1.25" height="8.6" fill="#228b22"/>
<rect x="443.33" y="418.4" width="1.25" height="9.2" fill="#228b22"/>
<rect x="447.30" y="419.0" width="1.25" height="8.6" fill="#228b22"/>
<rect x="451.28" y="419.0" width="1.25" height="8.6" fill="#228b22"/>
<rect x="455.26" y="421.0" width="1.25" height="6.6" fill="#228b22"/>
<rect x="459.23" y="423.0" width="1.25" height="4.6" fill="#228b22"/>
<rect x="463.21" y="424.0" width="1.25" height="3.6" fill="#228b22"/>
<rect x="467.19" y="425.0" width="1.25" height="2.6" fill="#228b22"/>
<rect x="471.17" y="425.0" width="1.25" height="2.6" fill="#228b22"/>
<rect x="475.14" y="424.0" width="1.25" height="3.6" fill="#228b22"/>
<rect x="479.12" y="422.0" width="1.25" height="5.6" fill="#228b22"/>
<rect x="483.10" y="419.6" width="1.25" height="8.0" fill="#228b22"/>
<rect x="487.07" y="419.0" width="1.25" height="8.6" fill="#228b22"/>
<rect x="491.05" y="419.0" width="1.25" height="8.6" fill="#228b22"/>
<rect x="495.03" y="419.0" width="1.25" height="8.6" fill="#228b22"/>
<rect x="499.00" y="419.6" width="1.25" height="8.0" fill="#228b22"/>
<rect x="502.98" y="418.0" width="1.25" height="9.6" fill="#228b22"/>
<rect x="506.96" y="418.0" width="1.25" height="9.6" fill="#228b22"/>
<rect x="510.94" y="418.4" width="1.25" height="9.2" fill="#228b22"/>
<rect x="514.91" y="418.4" width="1.25" height="9.2" fill="#228b22"/>
<rect x="518.89" y="419.6" width="1.25" height="8.0" fill="#228b22"/>
<polyline points="2.0,403.0 10.0,408.0 20.0,418.0 27.0,426.0 32.0,435.0 37.0,442.0 42.0,448.0 46.0,450.0 50.0,450.4 54.0,446.0 60.0,438.0 66.0,428.0 72.0,419.0 76.0,417.0 80.0,416.0 88.0,412.0 94.0,409.6 104.0,409.6 109.0,410.5 113.0,411.0 116.0,410.0 118.0,408.0 124.0,401.0 130.0,396.0 135.0,393.0 140.0,391.0 145.0,389.5 150.0,389.0 153.0,390.0 155.0,392.0 160.0,399.0 165.0,403.0 168.0,404.0 171.0,403.0 175.0,401.6 183.0,400.6 190.0,400.4 193.0,399.0 197.0,395.0 201.0,392.0 205.0,389.6 209.0,388.0 212.0,387.6 215.0,388.0 217.0,389.0 222.0,392.4 226.0,394.0 229.0,393.0 232.0,391.6 237.0,390.0 240.0,391.0 242.0,392.4 246.0,396.0 250.0,400.0 254.0,403.0 258.0,405.0 263.0,406.0 268.0,408.4 270.0,406.0 272.0,403.0 274.0,402.0 277.0,401.4 282.0,402.0 286.0,403.5 290.0,406.0 296.0,411.0 300.0,415.0 304.0,419.0 307.0,421.5 310.0,423.0 313.0,427.0 316.0,432.0 319.0,436.0 322.0,440.0 325.0,443.0 328.0,445.0 332.0,448.0 336.0,450.0 340.0,451.0 344.0,452.0 348.0,453.5 352.0,455.0 356.0,456.5 360.0,458.0 364.0,459.5 368.0,461.0 372.0,462.0 375.0,463.0 378.0,464.5 380.0,466.0 382.0,467.0 384.0,467.6 386.0,467.0 388.0,466.4 392.0,465.0 394.0,465.0 397.0,465.6 400.0,470.0 405.0,475.0 409.0,478.4 411.0,478.0 414.0,477.0 417.0,475.5 420.0,473.6 424.0,472.4 428.0,472.4 430.0,470.5 432.0,468.0 434.0,465.0 436.0,462.0 438.0,459.5 440.0,457.0 442.0,455.3 444.0,454.0 446.0,453.5 448.0,453.0 450.0,451.0 452.0,449.6 454.0,450.3 456.0,451.0 462.0,451.4 468.0,451.4 471.0,450.5 474.0,449.0 477.0,446.5 480.0,444.0 483.0,441.0 486.0,438.0 489.0,436.0 492.0,434.4 495.0,433.2 498.0,432.0 500.0,430.5 502.0,429.0 504.0,427.0 506.0,425.0 509.0,423.5 512.0,422.4 515.0,420.8 518.0,419.0" fill="none" stroke="#3535ff" stroke-width="1.05" stroke-linejoin="round" />
<polyline points="2.0,397.6 10.0,401.0 20.0,408.0 30.0,417.0 40.0,428.0 45.0,433.0 50.0,437.0 54.0,438.8 58.0,439.6 62.0,438.3 66.0,436.0 74.0,430.0 82.0,425.0 90.0,419.6 100.0,414.4 105.0,413.0 110.0,412.0 118.0,410.4 124.0,408.0 132.0,403.0 140.0,399.5 145.0,397.0 150.0,395.0 155.0,394.0 158.0,394.5 160.0,395.6 165.0,397.5 170.0,399.0 175.0,399.6 180.0,400.0 190.0,400.4 195.0,399.5 200.0,397.6 205.0,395.5 210.0,393.6 214.0,392.3 217.0,391.6 221.0,391.7 225.0,392.0 232.0,392.4 236.0,392.2 240.0,392.0 244.0,392.8 248.0,394.0 252.0,395.4 256.0,397.0 260.0,398.6 264.0,400.0 268.0,402.0 272.0,402.4 276.0,402.0 280.0,402.0 284.0,402.4 288.0,403.2 292.0,404.4 296.0,406.0 300.0,408.0 304.0,410.3 308.0,413.0 312.0,416.0 316.0,419.0 320.0,422.5 324.0,426.0 328.0,429.5 332.0,433.0 336.0,436.0 340.0,439.0 344.0,441.6 348.0,444.0 352.0,446.5 356.0,449.0 360.0,451.0 364.0,453.0 368.0,455.0 372.0,457.0 376.0,458.6 380.0,460.0 384.0,461.3 388.0,462.4 392.0,463.2 396.0,464.0 400.0,465.0 403.0,466.4 406.0,468.0 409.0,469.6 412.0,471.0 415.0,472.2 418.0,473.0 421.0,473.0 424.0,472.4 427.0,471.8 430.0,471.0 433.0,469.5 436.0,467.6 440.0,465.2 444.0,463.0 448.0,461.2 452.0,459.6 456.0,457.8 460.0,456.0 464.0,455.1 468.0,454.4 472.0,453.5 476.0,452.4 480.0,450.5 484.0,448.0 488.0,445.8 492.0,443.6 496.0,441.0 500.0,438.0 504.0,435.5 508.0,433.0 511.0,431.2 514.0,429.6 518.0,428.0" fill="none" stroke="#ff2a2a" stroke-width="1.1" stroke-linejoin="round" stroke-dasharray="3.6 2.6"/>
<g fill="#000">
<rect x="0.9" y="38.3" width="1.2" height="445"/>
<rect x="1" y="38.5" width="655.5" height="1.4"/>
<rect x="655.2" y="38" width="1.3" height="445"/>
<rect x="1" y="378.5" width="655.5" height="1"/>
<rect x="1" y="381.2" width="655.5" height="1"/>
<rect x="1" y="482" width="655.5" height="1.2"/>
</g>
<rect x="1" y="379.5" width="655.5" height="0.8" fill="#888"/>
<path d="M518.4 39.4 L528.6 39.4 L523.5 44.4 Z" fill="#000"/>
<path d="M4.8 44.6 L12.2 44.6 L8.5 48.5 Z" fill="#000"/>
<text x="17" y="49.3" font-family="'Liberation Sans',sans-serif" font-size="9.6" fill="#000" textLength="52" lengthAdjust="spacingAndGlyphs">NZDUSD,H1</text>
<text x="76.4" y="49.3" font-family="'Liberation Sans',sans-serif" font-size="9.6" fill="#000" textLength="140.2" lengthAdjust="spacingAndGlyphs">0.60628 0.60630 0.60620 0.60622</text>
<text x="7" y="392.8" font-family="'Liberation Sans',sans-serif" font-size="9.6" fill="#000" textLength="186.5" lengthAdjust="spacingAndGlyphs">MACD(12,26,9) 0.000389 0.000007 0.000382</text>
<rect x="656" y="59.5" width="2.8" height="1" fill="#000"/>
<text x="661" y="63.0" font-family="'Liberation Sans',sans-serif" font-size="9.6" fill="#000" textLength="32.5" lengthAdjust="spacingAndGlyphs">0.62335</text>
<rect x="656" y="88.5" width="2.8" height="1" fill="#000"/>
<text x="661" y="91.9" font-family="'Liberation Sans',sans-serif" font-size="9.6" fill="#000" textLength="32.5" lengthAdjust="spacingAndGlyphs">0.62045</text>
<rect x="656" y="117.5" width="2.8" height="1" fill="#000"/>
<text x="661" y="120.7" font-family="'Liberation Sans',sans-serif" font-size="9.6" fill="#000" textLength="32.5" lengthAdjust="spacingAndGlyphs">0.61760</text>
<rect x="656" y="146.5" width="2.8" height="1" fill="#000"/>
<text x="661" y="149.6" font-family="'Liberation Sans',sans-serif" font-size="9.6" fill="#000" textLength="32.5" lengthAdjust="spacingAndGlyphs">0.61475</text>
<rect x="656" y="174.5" width="2.8" height="1" fill="#000"/>
<text x="661" y="178.4" font-family="'Liberation Sans',sans-serif" font-size="9.6" fill="#000" textLength="32.5" lengthAdjust="spacingAndGlyphs">0.61185</text>
<rect x="656" y="203.5" width="2.8" height="1" fill="#000"/>
<text x="661" y="207.3" font-family="'Liberation Sans',sans-serif" font-size="9.6" fill="#000" textLength="32.5" lengthAdjust="spacingAndGlyphs">0.60900</text>
<rect x="656" y="232.5" width="2.8" height="1" fill="#000"/>
<text x="661" y="236.2" font-family="'Liberation Sans',sans-serif" font-size="9.6" fill="#000" textLength="32.5" lengthAdjust="spacingAndGlyphs">0.60610</text>
<rect x="656" y="261.5" width="2.8" height="1" fill="#000"/>
<text x="661" y="265.0" font-family="'Liberation Sans',sans-serif" font-size="9.6" fill="#000" textLength="32.5" lengthAdjust="spacingAndGlyphs">0.60325</text>
<rect x="656" y="290.5" width="2.8" height="1" fill="#000"/>
<text x="661" y="293.9" font-family="'Liberation Sans',sans-serif" font-size="9.6" fill="#000" textLength="32.5" lengthAdjust="spacingAndGlyphs">0.60040</text>
<rect x="656" y="319.5" width="2.8" height="1" fill="#000"/>
<text x="661" y="322.7" font-family="'Liberation Sans',sans-serif" font-size="9.6" fill="#000" textLength="32.5" lengthAdjust="spacingAndGlyphs">0.59755</text>
<rect x="656" y="348.5" width="2.8" height="1" fill="#000"/>
<text x="661" y="351.6" font-family="'Liberation Sans',sans-serif" font-size="9.6" fill="#000" textLength="32.5" lengthAdjust="spacingAndGlyphs">0.59465</text>
<rect x="656" y="376.5" width="2.8" height="1" fill="#000"/>
<text x="661" y="380.5" font-family="'Liberation Sans',sans-serif" font-size="9.6" fill="#000" textLength="32.5" lengthAdjust="spacingAndGlyphs">0.59180</text>
<text x="661" y="391.4" font-family="'Liberation Sans',sans-serif" font-size="9.6" fill="#000" textLength="37.5" lengthAdjust="spacingAndGlyphs">0.001889</text>
<text x="661" y="431.0" font-family="'Liberation Sans',sans-serif" font-size="9.6" fill="#000" textLength="18" lengthAdjust="spacingAndGlyphs">0.00</text>
<text x="661" y="481.4" font-family="'Liberation Sans',sans-serif" font-size="9.6" fill="#000" textLength="41" lengthAdjust="spacingAndGlyphs">-0.002332</text>
<rect x="656" y="427" width="2.8" height="1" fill="#000"/>
<rect x="657" y="158.7" width="41" height="9.3" fill="#ff0000"/>
<text x="661" y="166.8" font-family="'Liberation Sans',sans-serif" font-size="9.6" fill="#fff" textLength="32.5" lengthAdjust="spacingAndGlyphs">0.61305</text>
<rect x="657" y="219.0" width="41" height="9.3" fill="#ff0000"/>
<text x="661" y="227.1" font-family="'Liberation Sans',sans-serif" font-size="9.6" fill="#fff" textLength="32.5" lengthAdjust="spacingAndGlyphs">0.60706</text>
<rect x="657" y="288.8" width="41" height="9.3" fill="#ff0000"/>
<text x="661" y="296.9" font-family="'Liberation Sans',sans-serif" font-size="9.6" fill="#fff" textLength="32.5" lengthAdjust="spacingAndGlyphs">0.60006</text>
<rect x="657" y="348.4" width="41" height="9.3" fill="#ff0000"/>
<text x="661" y="356.5" font-family="'Liberation Sans',sans-serif" font-size="9.6" fill="#fff" textLength="32.5" lengthAdjust="spacingAndGlyphs">0.59412</text>
<rect x="657" y="228" width="41" height="9" fill="#000"/>
<text x="661" y="235.8" font-family="'Liberation Sans',sans-serif" font-size="9.6" fill="#fff" textLength="32.5" lengthAdjust="spacingAndGlyphs">0.60622</text>
<rect x="2.0" y="483" width="1" height="3.5" fill="#000"/>
<text x="2.0" y="495.3" font-family="'Liberation Sans',sans-serif" font-size="9.6" fill="#000" textLength="50" lengthAdjust="spacingAndGlyphs">27 Apr 2020</text>
<rect x="65.6" y="483" width="1" height="3.5" fill="#000"/>
<text x="65.6" y="495.3" font-family="'Liberation Sans',sans-serif" font-size="9.6" fill="#000" textLength="52" lengthAdjust="spacingAndGlyphs">28 Apr 10:00</text>
<rect x="129.3" y="483" width="1" height="3.5" fill="#000"/>
<text x="129.3" y="495.3" font-family="'Liberation Sans',sans-serif" font-size="9.6" fill="#000" textLength="52" lengthAdjust="spacingAndGlyphs">29 Apr 02:00</text>
<rect x="192.9" y="483" width="1" height="3.5" fill="#000"/>
<text x="192.9" y="495.3" font-family="'Liberation Sans',sans-serif" font-size="9.6" fill="#000" textLength="52" lengthAdjust="spacingAndGlyphs">29 Apr 18:00</text>
<rect x="256.5" y="483" width="1" height="3.5" fill="#000"/>
<text x="256.5" y="495.3" font-family="'Liberation Sans',sans-serif" font-size="9.6" fill="#000" textLength="52" lengthAdjust="spacingAndGlyphs">30 Apr 10:00</text>
<rect x="320.2" y="483" width="1" height="3.5" fill="#000"/>
<text x="320.2" y="495.3" font-family="'Liberation Sans',sans-serif" font-size="9.6" fill="#000" textLength="51.5" lengthAdjust="spacingAndGlyphs">1 May 02:00</text>
<rect x="383.8" y="483" width="1" height="3.5" fill="#000"/>
<text x="383.8" y="495.3" font-family="'Liberation Sans',sans-serif" font-size="9.6" fill="#000" textLength="51.5" lengthAdjust="spacingAndGlyphs">1 May 18:00</text>
<rect x="447.4" y="483" width="1" height="3.5" fill="#000"/>
<text x="447.4" y="495.3" font-family="'Liberation Sans',sans-serif" font-size="9.6" fill="#000" textLength="51.5" lengthAdjust="spacingAndGlyphs">4 May 10:00</text>
<rect x="511.1" y="483" width="1" height="3.5" fill="#000"/>
<text x="511.1" y="495.3" font-family="'Liberation Sans',sans-serif" font-size="9.6" fill="#000" textLength="51.5" lengthAdjust="spacingAndGlyphs">5 May 02:00</text>
</svg></body></html>
